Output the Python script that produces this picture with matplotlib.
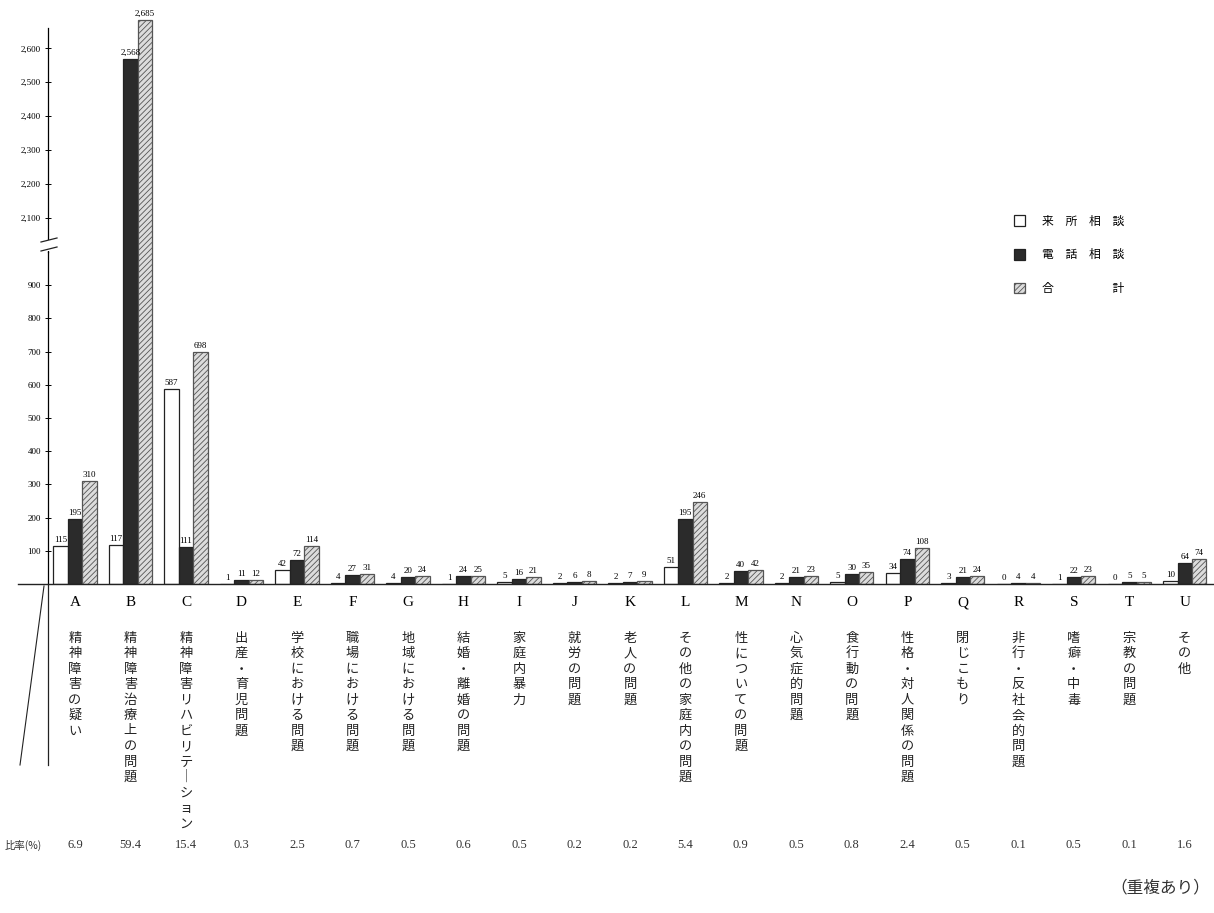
import matplotlib.pyplot as plt
from matplotlib.patches import Rectangle
from matplotlib.lines import Line2D
from matplotlib.transforms import blended_transform_factory, Bbox, TransformedBbox

letters = list("ABCDEFGHIJKLMNOPQRSTU")
topics = ["精神障害の疑い", "精神障害治療上の問題", "精神障害リハビリテーション",
          "出産・育児問題", "学校における問題", "職場における問題", "地域における問題",
          "結婚・離婚の問題", "家庭内暴力", "就労の問題", "老人の問題",
          "その他の家庭内の問題", "性についての問題", "心気症的問題", "食行動の問題",
          "性格・対人関係の問題", "閉じこもり", "非行・反社会的問題", "嗜癖・中毒",
          "宗教の問題", "その他"]
visit = [115, 117, 587, 1, 42, 4, 4, 1, 5, 2, 2, 51, 2, 2, 5, 34, 3, 0, 1, 0, 10]
phone = [195, 2568, 111, 11, 72, 27, 20, 24, 16, 6, 7, 195, 40, 21, 30, 74, 21, 4, 22, 5, 64]
total = [310, 2685, 698, 12, 114, 31, 24, 25, 21, 8, 9, 246, 42, 23, 35, 108, 24, 4, 23, 5, 74]
ratio = ["6.9", "59.4", "15.4", "0.3", "2.5", "0.7", "0.5", "0.6", "0.5", "0.2", "0.2",
         "5.4", "0.9", "0.5", "0.8", "2.4", "0.5", "0.1", "0.5", "0.1", "1.6"]
low_ticks = [100, 200, 300, 400, 500, 600, 700, 800, 900]
high_ticks = [2100, 2200, 2300, 2400, 2500, 2600]
series_names = ["来　所　相　談", "電　話　相　談", "合　　　　　計"]

plt.rcParams['font.family'] = ['Liberation Serif', 'Noto Sans CJK JP']
plt.rcParams['hatch.linewidth'] = 0.6
plt.rcParams['hatch.color'] = '#555555'

W, H = 1214, 913
def fx(px):
    return px / W
def fy(py):
    return 1 - py / H

fig = plt.figure(figsize=(W / 100, H / 100), dpi=100)
ax_lo = fig.add_axes([fx(48), fy(584), fx(1212) - fx(48), fy(252) - fy(584)])
ax_hi = fig.add_axes([fx(48), fy(252), fx(1212) - fx(48), fy(28) - fy(252)])

x = list(range(len(letters)))
bw = 0.26
styles = [dict(facecolor='white', edgecolor='#222222'),
          dict(facecolor='#2b2b2b', edgecolor='#222222'),
          dict(facecolor='#dcdcdc', edgecolor='#555555', hatch='//////')]
series = [visit, phone, total]
low_top = 1000
hi_bottom, hi_top = 2000, 2660

# clip the upper part only at its bottom so the tallest bar can pass the top
hi_clip = TransformedBbox(Bbox([[0, 0], [1, 1.2]]), ax_hi.transAxes)

handles = []
for k, vals in enumerate(series):
    xs = [xi + (k - 1) * bw for xi in x]
    b = ax_lo.bar(xs, vals, width=bw, linewidth=0.9, **styles[k])
    handles.append(b)
    big = [(xx, v) for xx, v in zip(xs, vals) if v > hi_bottom]
    if big:
        hb = ax_hi.bar([p[0] for p in big], [p[1] - hi_bottom + 20 for p in big],
                       bottom=hi_bottom - 20, width=bw, linewidth=0.9, **styles[k])
        for p in hb:
            p.set_clip_box(hi_clip)
    for xx, v in zip(xs, vals):
        target = ax_hi if v > low_top else ax_lo
        target.annotate(f"{v:,}", (xx, v), xytext=(0, 1.5), textcoords='offset points',
                        ha='center', va='bottom', fontsize=6.5, annotation_clip=False)

for ax in (ax_lo, ax_hi):
    ax.set_xlim(-0.486, 20.49)
    for s in ('top', 'right', 'bottom'):
        ax.spines[s].set_visible(False)
    ax.spines['left'].set_linewidth(0.9)
    ax.tick_params(axis='y', direction='inout', length=4, width=0.7, labelsize=6.5, pad=3)

ax_lo.set_ylim(0, low_top)
ax_lo.set_yticks(low_ticks)
ax_lo.set_yticklabels([str(t) for t in low_ticks])
ax_lo.set_xticks(x)
ax_lo.set_xticklabels(letters, fontsize=11)
ax_lo.tick_params(axis='x', length=0, pad=9)

ax_hi.set_ylim(hi_bottom, hi_top)
ax_hi.set_yticks(high_ticks)
ax_hi.set_yticklabels([f"{t:,}" for t in high_ticks])
ax_hi.set_xticks([])

# baseline, table corner lines and axis break
fig.add_artist(Line2D([fx(18), fx(1214)], [fy(584), fy(584)], color='#222222', lw=1.0))
fig.add_artist(Line2D([fx(48), fx(48)], [fy(584), fy(765)], color='#222222', lw=0.9))
fig.add_artist(Line2D([fx(44), fx(20)], [fy(586), fy(765)], color='#222222', lw=0.8))
fig.add_artist(Rectangle((fx(44), fy(251)), fx(10), fy(240) - fy(251),
                         transform=fig.transFigure, facecolor='white', edgecolor='none'))
for yy in (240, 249):
    fig.add_artist(Line2D([fx(41), fx(57)], [fy(yy + 2), fy(yy - 2)], color='#222222', lw=0.9))

# vertical category names
tr = blended_transform_factory(ax_lo.transData, fig.transFigure)
for xi, name in zip(x, topics):
    for j, ch in enumerate(name.replace("ー", "｜")):
        ax_lo.text(xi, fy(638 + j * 15.5), ch, transform=tr, ha='center', va='center',
                   fontsize=9.5, color='#222222', family=['Noto Sans CJK JP'])
    ax_lo.text(xi, fy(845), ratio[xi], transform=tr, ha='center', va='center',
               fontsize=9, color='#333333')

fig.text(fx(5), fy(845), "比率(%)", ha='left', va='center', fontsize=7.5, color='#333333',
         family=['Noto Sans CJK JP'])
fig.text(fx(1210), fy(888), "（重複あり）", ha='right', va='center', fontsize=12,
         color='#333333', family=['Noto Sans CJK JP'])

fig.legend(handles=handles, labels=series_names, loc='upper left',
           bbox_to_anchor=(fx(1003), fy(204)), frameon=False,
           prop={'family': ['Noto Sans CJK JP'], 'size': 8.5},
           handlelength=1.0, handleheight=1.0, labelspacing=1.75, handletextpad=1.4)

fig.savefig("out.png", dpi=100)
